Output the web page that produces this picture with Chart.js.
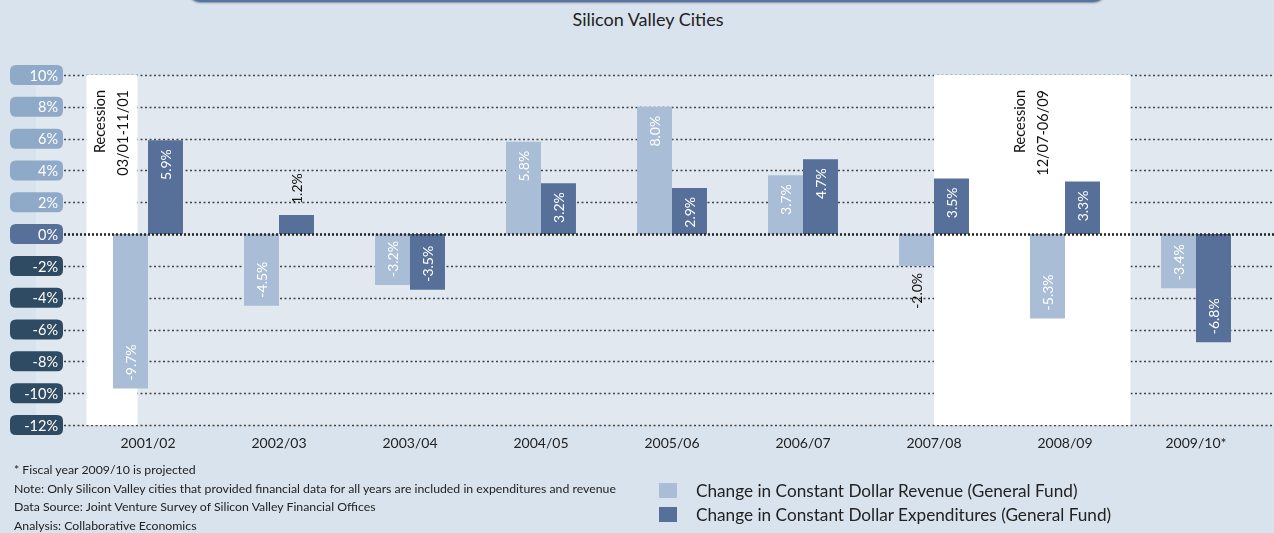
<!DOCTYPE html>
<html>
<head>
<meta charset="utf-8">
<script src="https://cdn.jsdelivr.net/npm/chart.js@4.4.0/dist/chart.umd.min.js"></script>
<style>
  html, body { margin: 0; padding: 0; }
  body { width: 1274px; height: 533px; background: #d9e3ed; position: relative; overflow: hidden; font-family: Lato, "Open Sans", sans-serif; color: #222; }
  #topbar { position: absolute; left: 187px; width: 920px; top: -12px; height: 14px; background: #5873a0; border-radius: 0 0 14px 14px; box-shadow: 0 1px 2px rgba(40,60,90,0.5); }
  #title { position: absolute; left: 648px; top: 8px; transform: translateX(-50%); font-size: 18px; white-space: nowrap; }
  #chartBox { position: absolute; left: 0; top: 0; width: 1274px; height: 533px; }
  #notes { position: absolute; left: 14px; top: 461px; font-size: 12.3px; line-height: 18.6px; }
  #legend { position: absolute; left: 659px; top: 479px; font-size: 17.2px; }
  #legend div { display: flex; align-items: center; height: 23.5px; }
  #legend span.box { display: inline-block; width: 18px; height: 15px; margin-right: 19px; }
</style>
</head>
<body>
<div id="topbar"></div>
<div id="title">Silicon Valley Cities</div>
<div id="chartBox"><canvas id="barChart" width="1274" height="533"></canvas></div>
<div id="notes">
  <div>* Fiscal year 2009/10 is projected</div>
  <div>Note: Only Silicon Valley cities that provided financial data for all years are included in expenditures and revenue</div>
  <div>Data Source: Joint Venture Survey of Silicon Valley Financial Offices</div>
  <div>Analysis: Collaborative Economics</div>
</div>
<div id="legend"></div>
<script>
// ---- data ----
const categories = ['2001/02', '2002/03', '2003/04', '2004/05', '2005/06', '2006/07', '2007/08', '2008/09', '2009/10*'];
const revenue = [-9.7, -4.5, -3.2, 5.8, 8.0, 3.7, -2.0, -5.3, -3.4];
const expenditures = [5.9, 1.2, -3.5, 3.2, 2.9, 4.7, 3.5, 3.3, -6.8];
const yTicks = [10, 8, 6, 4, 2, 0, -2, -4, -6, -8, -10, -12];
// recession periods, in category index units
const recessionStart = [-0.47, 6.0];
const recessionEnd = [-0.08, 7.5];
const recessionLabels = [['Recession', '03/01-11/01'], ['Recession', '12/07-06/09']];
const seriesNames = ['Change in Constant Dollar Revenue (General Fund)', 'Change in Constant Dollar Expenditures (General Fund)'];

// ---- colours ----
const REV_COLOR = '#a9bdd6';
const EXP_COLOR = '#56709a';
const PLOT_BG = '#e1e8f0';
const FONT = 'Lato, "Open Sans", sans-serif';

// html legend
const legendEl = document.getElementById('legend');
[REV_COLOR, EXP_COLOR].forEach((c, i) => {
  const row = document.createElement('div');
  row.innerHTML = '<span class="box" style="background:' + c + '"></span>' + seriesNames[i];
  legendEl.appendChild(row);
});

function tickBoxColor(v) {
  if (v > 0) return '#8eaac8';
  if (v === 0) return '#56709a';
  return '#2f4b63';
}

function roundRect(ctx, x, y, w, h, r) {
  ctx.beginPath();
  ctx.moveTo(x + r, y);
  ctx.lineTo(x + w - r, y);
  ctx.quadraticCurveTo(x + w, y, x + w, y + r);
  ctx.lineTo(x + w, y + h - r);
  ctx.quadraticCurveTo(x + w, y + h, x + w - r, y + h);
  ctx.lineTo(x + r, y + h);
  ctx.quadraticCurveTo(x, y + h, x, y + h - r);
  ctx.lineTo(x, y + r);
  ctx.quadraticCurveTo(x, y, x + r, y);
  ctx.closePath();
}

// background, grid, recession bands, axis labels
const backdropPlugin = {
  id: 'backdrop',
  beforeDatasetsDraw(chart) {
    const ctx = chart.ctx;
    const xs = chart.scales.x, ys = chart.scales.y;
    const top = ys.getPixelForValue(yTicks[0]);
    const bottom = ys.getPixelForValue(yTicks[yTicks.length - 1]);
    ctx.save();
    ctx.fillStyle = PLOT_BG;
    ctx.fillRect(36, top, chart.width - 36, bottom - top);

    // dotted grid lines
    ctx.strokeStyle = '#444';
    ctx.lineWidth = 1.3;
    ctx.setLineDash([2, 2.5]);
    yTicks.forEach(v => {
      if (v === 0) return;
      const y = Math.round(ys.getPixelForValue(v)) + 0.5;
      ctx.beginPath();
      ctx.moveTo(64, y);
      ctx.lineTo(chart.width, y);
      ctx.stroke();
    });
    ctx.setLineDash([]);

    // recession bands
    recessionStart.forEach((s, i) => {
      const x0 = xs.getPixelForValue(s);
      const x1 = xs.getPixelForValue(recessionEnd[i]);
      ctx.fillStyle = '#ffffff';
      ctx.fillRect(x0, top, x1 - x0, bottom - top);
      ctx.fillStyle = '#111';
      ctx.font = '14.5px ' + FONT;
      ctx.textAlign = 'right';
      ctx.textBaseline = 'middle';
      const cx = (x0 + x1) / 2;
      recessionLabels[i].forEach((t, j) => {
        ctx.save();
        ctx.translate(cx + (j - 0.5) * 23, top + 15);
        ctx.rotate(-Math.PI / 2);
        ctx.fillText(t, 0, 0);
        ctx.restore();
      });
    });

    // y tick boxes
    ctx.font = '14.5px ' + FONT;
    ctx.textAlign = 'right';
    ctx.textBaseline = 'middle';
    yTicks.forEach(v => {
      const y = ys.getPixelForValue(v);
      ctx.fillStyle = tickBoxColor(v);
      roundRect(ctx, 10, y - 10, 53, 20, 6);
      ctx.fill();
      ctx.fillStyle = '#ffffff';
      ctx.fillText(v + '%', 58, y + 1);
    });

    // x category labels
    ctx.fillStyle = '#222';
    ctx.font = '14px ' + FONT;
    ctx.textAlign = 'center';
    categories.forEach((c, i) => {
      ctx.fillText(c, xs.getPixelForValue(i), bottom + 18);
    });
    ctx.restore();
  },
  afterDatasetsDraw(chart) {
    const ctx = chart.ctx;
    const ys = chart.scales.y;
    ctx.save();
    // zero line over bars
    const y0 = Math.round(ys.getPixelForValue(0)) + 0.5;
    ctx.strokeStyle = '#222';
    ctx.lineWidth = 2.5;
    ctx.setLineDash([2, 2]);
    ctx.beginPath();
    ctx.moveTo(64, y0);
    ctx.lineTo(chart.width, y0);
    ctx.stroke();
    ctx.setLineDash([]);

    // value labels
    ctx.font = '14px ' + FONT;
    ctx.textBaseline = 'middle';
    chart.data.datasets.forEach((ds, di) => {
      chart.getDatasetMeta(di).data.forEach((bar, i) => {
        const v = ds.data[i];
        const txt = v.toFixed(1) + '%';
        const inside = Math.abs(v) >= 2.5;
        let ay, align;
        if (v >= 0) {
          if (inside) { ay = bar.y + 9; align = 'right'; }
          else { ay = bar.y - 11; align = 'left'; }
        } else {
          if (inside) { ay = bar.y - 8; align = 'left'; }
          else { ay = bar.y + 7; align = 'right'; }
        }
        ctx.fillStyle = inside ? '#ffffff' : '#111';
        ctx.textAlign = align;
        ctx.save();
        ctx.translate(bar.x + 1, ay);
        ctx.rotate(-Math.PI / 2);
        ctx.fillText(txt, 0, 0);
        ctx.restore();
      });
    });
    ctx.restore();
  }
};

new Chart(document.getElementById('barChart'), {
  type: 'bar',
  data: {
    labels: categories,
    datasets: [
      { label: seriesNames[0], data: revenue, backgroundColor: REV_COLOR },
      { label: seriesNames[1], data: expenditures, backgroundColor: EXP_COLOR }
    ]
  },
  options: {
    responsive: false,
    animation: false,
    devicePixelRatio: 1,
    categoryPercentage: 0.534,
    barPercentage: 1,
    layout: { padding: { left: 82.5, right: 12.5, top: 75, bottom: 108 } },
    plugins: { legend: { display: false }, tooltip: { enabled: false } },
    scales: {
      x: { display: false },
      y: { display: false, min: -12, max: 10 }
    }
  },
  plugins: [backdropPlugin]
});
</script>
</body>
</html>
